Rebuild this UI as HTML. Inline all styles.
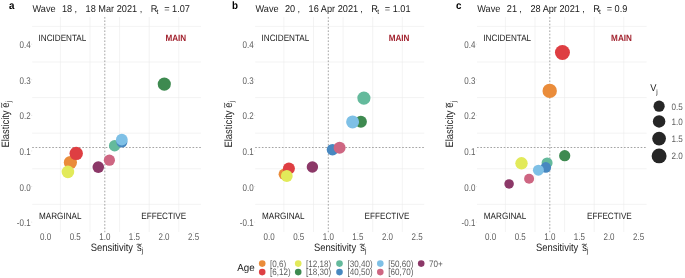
<!DOCTYPE html>
<html><head><meta charset="utf-8"><title>Elasticity vs Sensitivity</title>
<style>
html,body{margin:0;padding:0;background:#fff;}
body{width:685px;height:278px;overflow:hidden;}
svg{display:block;font-family:"Liberation Sans", sans-serif;text-rendering:geometricPrecision;-webkit-font-smoothing:antialiased;will-change:transform;}
</style></head><body>
<svg width="685" height="278" viewBox="0 0 685 278">
<rect width="685" height="278" fill="#fff"/>
<line x1="60.4" y1="17" x2="60.4" y2="232" stroke="#EBEBEB" stroke-width="0.6"/>
<line x1="90" y1="17" x2="90" y2="232" stroke="#EBEBEB" stroke-width="0.6"/>
<line x1="119.6" y1="17" x2="119.6" y2="232" stroke="#EBEBEB" stroke-width="0.6"/>
<line x1="149.2" y1="17" x2="149.2" y2="232" stroke="#EBEBEB" stroke-width="0.6"/>
<line x1="178.8" y1="17" x2="178.8" y2="232" stroke="#EBEBEB" stroke-width="0.6"/>
<line x1="32.2" y1="204.34" x2="200.9" y2="204.34" stroke="#EBEBEB" stroke-width="0.6"/>
<line x1="32.2" y1="168.76" x2="200.9" y2="168.76" stroke="#EBEBEB" stroke-width="0.6"/>
<line x1="32.2" y1="133.17" x2="200.9" y2="133.17" stroke="#EBEBEB" stroke-width="0.6"/>
<line x1="32.2" y1="97.58" x2="200.9" y2="97.58" stroke="#EBEBEB" stroke-width="0.6"/>
<line x1="32.2" y1="61.99" x2="200.9" y2="61.99" stroke="#EBEBEB" stroke-width="0.6"/>
<line x1="32.2" y1="26.4" x2="200.9" y2="26.4" stroke="#EBEBEB" stroke-width="0.6"/>
<line x1="104.8" y1="17" x2="104.8" y2="232" stroke="#9A9A9A" stroke-width="0.9" stroke-dasharray="1.66 1.68"/>
<line x1="32.2" y1="147.5" x2="200.9" y2="147.5" stroke="#9A9A9A" stroke-width="0.9" stroke-dasharray="1.66 1.68"/>
<text transform="matrix(0.8163 0 0 1 30.6 48.19)" font-size="9.8" fill="#5E5E5E" text-anchor="end">0.4</text>
<line x1="31" y1="44.19" x2="32.2" y2="44.19" stroke="#cfcfcf" stroke-width="0.5"/>
<text transform="matrix(0.8163 0 0 1 30.6 83.78)" font-size="9.8" fill="#5E5E5E" text-anchor="end">0.3</text>
<line x1="31" y1="79.78" x2="32.2" y2="79.78" stroke="#cfcfcf" stroke-width="0.5"/>
<text transform="matrix(0.8163 0 0 1 30.6 119.37)" font-size="9.8" fill="#5E5E5E" text-anchor="end">0.2</text>
<line x1="31" y1="115.37" x2="32.2" y2="115.37" stroke="#cfcfcf" stroke-width="0.5"/>
<text transform="matrix(0.8163 0 0 1 30.6 154.96)" font-size="9.8" fill="#5E5E5E" text-anchor="end">0.1</text>
<line x1="31" y1="150.96" x2="32.2" y2="150.96" stroke="#cfcfcf" stroke-width="0.5"/>
<text transform="matrix(0.8163 0 0 1 30.6 190.55)" font-size="9.8" fill="#5E5E5E" text-anchor="end">0.0</text>
<line x1="31" y1="186.55" x2="32.2" y2="186.55" stroke="#cfcfcf" stroke-width="0.5"/>
<text transform="matrix(0.8163 0 0 1 30.6 226.14)" font-size="9.8" fill="#5E5E5E" text-anchor="end">-0.1</text>
<line x1="31" y1="222.14" x2="32.2" y2="222.14" stroke="#cfcfcf" stroke-width="0.5"/>
<text transform="matrix(0.8163 0 0 1 45.6 239.7)" font-size="9.8" fill="#5E5E5E" text-anchor="middle">0.0</text>
<line x1="45.6" y1="232" x2="45.6" y2="233.1" stroke="#d8d8d8" stroke-width="0.5"/>
<text transform="matrix(0.8163 0 0 1 75.2 239.7)" font-size="9.8" fill="#5E5E5E" text-anchor="middle">0.5</text>
<line x1="75.2" y1="232" x2="75.2" y2="233.1" stroke="#d8d8d8" stroke-width="0.5"/>
<text transform="matrix(0.8163 0 0 1 104.8 239.7)" font-size="9.8" fill="#5E5E5E" text-anchor="middle">1.0</text>
<line x1="104.8" y1="232" x2="104.8" y2="233.1" stroke="#d8d8d8" stroke-width="0.5"/>
<text transform="matrix(0.8163 0 0 1 134.4 239.7)" font-size="9.8" fill="#5E5E5E" text-anchor="middle">1.5</text>
<line x1="134.4" y1="232" x2="134.4" y2="233.1" stroke="#d8d8d8" stroke-width="0.5"/>
<text transform="matrix(0.8163 0 0 1 164 239.7)" font-size="9.8" fill="#5E5E5E" text-anchor="middle">2.0</text>
<line x1="164" y1="232" x2="164" y2="233.1" stroke="#d8d8d8" stroke-width="0.5"/>
<text transform="matrix(0.8163 0 0 1 193.6 239.7)" font-size="9.8" fill="#5E5E5E" text-anchor="middle">2.5</text>
<line x1="193.6" y1="232" x2="193.6" y2="233.1" stroke="#d8d8d8" stroke-width="0.5"/>
<text transform="matrix(0.8859 0 0 1 38.5 40.8)" font-size="9.2" fill="#222">INCIDENTAL</text>
<text transform="matrix(0.8859 0 0 1 186.2 40.8)" font-size="9.2" fill="#A2232F" text-anchor="end" font-weight="bold">MAIN</text>
<text transform="matrix(0.8859 0 0 1 39 218.6)" font-size="9.2" fill="#222">MARGINAL</text>
<text transform="matrix(0.8859 0 0 1 186.1 218.6)" font-size="9.2" fill="#222" text-anchor="end">EFFECTIVE</text>
<circle cx="70.4" cy="162.5" r="6.6" fill="#EA8C3A"/>
<circle cx="76.2" cy="153.4" r="6.7" fill="#DE3E42"/>
<circle cx="67.9" cy="171.9" r="6.3" fill="#E2EA5A"/>
<circle cx="164.3" cy="84.1" r="6.6" fill="#3E8A50"/>
<circle cx="114.6" cy="145.8" r="5.7" fill="#64BA9C"/>
<circle cx="121.9" cy="142" r="5.5" fill="#4888C0"/>
<circle cx="121.8" cy="139.7" r="5.9" fill="#7EC0E6"/>
<circle cx="109.4" cy="160.2" r="5.6" fill="#CE6682"/>
<circle cx="98.3" cy="167.1" r="5.8" fill="#8C3868"/>
<text transform="matrix(0.9245 0 0 1 9 8.7)" font-size="10.6" fill="#000" font-weight="bold">a</text>
<text transform="matrix(0.9293 0 0 1 32.5 11.7)" font-size="9.9" fill="#1a1a1a">Wave</text>
<text transform="matrix(0.9293 0 0 1 62 11.7)" font-size="9.9" fill="#1a1a1a">18</text>
<text transform="matrix(0.9293 0 0 1 74.4 11.7)" font-size="9.9" fill="#1a1a1a">,</text>
<text transform="matrix(0.9293 0 0 1 85.6 11.7)" font-size="9.9" fill="#1a1a1a">18 Mar 2021</text>
<text transform="matrix(0.9293 0 0 1 139.7 11.7)" font-size="9.9" fill="#1a1a1a">,</text>
<text transform="matrix(0.9293 0 0 1 150.7 11.7)" font-size="9.9" fill="#1a1a1a">R</text>
<text transform="matrix(0.9293 0 0 1 156.6 13.6)" font-size="7.128" fill="#1a1a1a">t</text>
<text transform="matrix(0.9293 0 0 1 164.2 11.7)" font-size="9.9" fill="#1a1a1a" xml:space="preserve">= 1.07</text>
<text transform="matrix(0.8785 0 0 1 90.75 250.8)" font-size="10.7" fill="#1a1a1a">Sensitivity</text>
<text transform="matrix(0.8785 0 0 1 137.05 250.8)" font-size="10.7" fill="#1a1a1a">s</text>
<path d="M136.55 244.7 q1.3 -0.9 2.55 -0.35 t2.55 -0.35" stroke="#1a1a1a" stroke-width="0.75" fill="none"/>
<text transform="matrix(0.8785 0 0 1 141.85 253.3)" font-size="7.49" fill="#1a1a1a">j</text>
<g transform="translate(8.5,147.5) rotate(-90)">
<text transform="matrix(0.8785 0 0 1 0 0)" font-size="10.7" fill="#1a1a1a">Elasticity</text>
<text transform="matrix(0.8785 0 0 1 39.7 0)" font-size="10.7" fill="#1a1a1a">e</text>
<path d="M39.6 -6.5 q1.3 -0.9 2.55 -0.35 t2.55 -0.35" stroke="#1a1a1a" stroke-width="0.75" fill="none"/>
<text transform="matrix(0.8785 0 0 1 45.2 2.4)" font-size="7.49" fill="#1a1a1a">j</text>
</g>
<line x1="283.9" y1="17" x2="283.9" y2="232" stroke="#EBEBEB" stroke-width="0.6"/>
<line x1="313.5" y1="17" x2="313.5" y2="232" stroke="#EBEBEB" stroke-width="0.6"/>
<line x1="343.1" y1="17" x2="343.1" y2="232" stroke="#EBEBEB" stroke-width="0.6"/>
<line x1="372.7" y1="17" x2="372.7" y2="232" stroke="#EBEBEB" stroke-width="0.6"/>
<line x1="402.3" y1="17" x2="402.3" y2="232" stroke="#EBEBEB" stroke-width="0.6"/>
<line x1="255.2" y1="204.34" x2="424.2" y2="204.34" stroke="#EBEBEB" stroke-width="0.6"/>
<line x1="255.2" y1="168.76" x2="424.2" y2="168.76" stroke="#EBEBEB" stroke-width="0.6"/>
<line x1="255.2" y1="133.17" x2="424.2" y2="133.17" stroke="#EBEBEB" stroke-width="0.6"/>
<line x1="255.2" y1="97.58" x2="424.2" y2="97.58" stroke="#EBEBEB" stroke-width="0.6"/>
<line x1="255.2" y1="61.99" x2="424.2" y2="61.99" stroke="#EBEBEB" stroke-width="0.6"/>
<line x1="255.2" y1="26.4" x2="424.2" y2="26.4" stroke="#EBEBEB" stroke-width="0.6"/>
<line x1="328.3" y1="17" x2="328.3" y2="232" stroke="#9A9A9A" stroke-width="0.9" stroke-dasharray="1.66 1.68"/>
<line x1="255.2" y1="147.5" x2="424.2" y2="147.5" stroke="#9A9A9A" stroke-width="0.9" stroke-dasharray="1.66 1.68"/>
<text transform="matrix(0.8163 0 0 1 253.6 48.19)" font-size="9.8" fill="#5E5E5E" text-anchor="end">0.4</text>
<line x1="254" y1="44.19" x2="255.2" y2="44.19" stroke="#cfcfcf" stroke-width="0.5"/>
<text transform="matrix(0.8163 0 0 1 253.6 83.78)" font-size="9.8" fill="#5E5E5E" text-anchor="end">0.3</text>
<line x1="254" y1="79.78" x2="255.2" y2="79.78" stroke="#cfcfcf" stroke-width="0.5"/>
<text transform="matrix(0.8163 0 0 1 253.6 119.37)" font-size="9.8" fill="#5E5E5E" text-anchor="end">0.2</text>
<line x1="254" y1="115.37" x2="255.2" y2="115.37" stroke="#cfcfcf" stroke-width="0.5"/>
<text transform="matrix(0.8163 0 0 1 253.6 154.96)" font-size="9.8" fill="#5E5E5E" text-anchor="end">0.1</text>
<line x1="254" y1="150.96" x2="255.2" y2="150.96" stroke="#cfcfcf" stroke-width="0.5"/>
<text transform="matrix(0.8163 0 0 1 253.6 190.55)" font-size="9.8" fill="#5E5E5E" text-anchor="end">0.0</text>
<line x1="254" y1="186.55" x2="255.2" y2="186.55" stroke="#cfcfcf" stroke-width="0.5"/>
<text transform="matrix(0.8163 0 0 1 253.6 226.14)" font-size="9.8" fill="#5E5E5E" text-anchor="end">-0.1</text>
<line x1="254" y1="222.14" x2="255.2" y2="222.14" stroke="#cfcfcf" stroke-width="0.5"/>
<text transform="matrix(0.8163 0 0 1 269.1 239.7)" font-size="9.8" fill="#5E5E5E" text-anchor="middle">0.0</text>
<line x1="269.1" y1="232" x2="269.1" y2="233.1" stroke="#d8d8d8" stroke-width="0.5"/>
<text transform="matrix(0.8163 0 0 1 298.7 239.7)" font-size="9.8" fill="#5E5E5E" text-anchor="middle">0.5</text>
<line x1="298.7" y1="232" x2="298.7" y2="233.1" stroke="#d8d8d8" stroke-width="0.5"/>
<text transform="matrix(0.8163 0 0 1 328.3 239.7)" font-size="9.8" fill="#5E5E5E" text-anchor="middle">1.0</text>
<line x1="328.3" y1="232" x2="328.3" y2="233.1" stroke="#d8d8d8" stroke-width="0.5"/>
<text transform="matrix(0.8163 0 0 1 357.9 239.7)" font-size="9.8" fill="#5E5E5E" text-anchor="middle">1.5</text>
<line x1="357.9" y1="232" x2="357.9" y2="233.1" stroke="#d8d8d8" stroke-width="0.5"/>
<text transform="matrix(0.8163 0 0 1 387.5 239.7)" font-size="9.8" fill="#5E5E5E" text-anchor="middle">2.0</text>
<line x1="387.5" y1="232" x2="387.5" y2="233.1" stroke="#d8d8d8" stroke-width="0.5"/>
<text transform="matrix(0.8163 0 0 1 417.1 239.7)" font-size="9.8" fill="#5E5E5E" text-anchor="middle">2.5</text>
<line x1="417.1" y1="232" x2="417.1" y2="233.1" stroke="#d8d8d8" stroke-width="0.5"/>
<text transform="matrix(0.8859 0 0 1 261.5 40.8)" font-size="9.2" fill="#222">INCIDENTAL</text>
<text transform="matrix(0.8859 0 0 1 409.5 40.8)" font-size="9.2" fill="#A2232F" text-anchor="end" font-weight="bold">MAIN</text>
<text transform="matrix(0.8859 0 0 1 262 218.6)" font-size="9.2" fill="#222">MARGINAL</text>
<text transform="matrix(0.8859 0 0 1 409.4 218.6)" font-size="9.2" fill="#222" text-anchor="end">EFFECTIVE</text>
<circle cx="284.3" cy="174.2" r="5.7" fill="#EA8C3A"/>
<circle cx="288.9" cy="168.6" r="6" fill="#DE3E42"/>
<circle cx="286.8" cy="176" r="5.9" fill="#E2EA5A"/>
<circle cx="360.9" cy="121.8" r="6" fill="#3E8A50"/>
<circle cx="363.9" cy="98.1" r="6.6" fill="#64BA9C"/>
<circle cx="332.5" cy="149.7" r="5.8" fill="#4888C0"/>
<circle cx="352.6" cy="121.9" r="6.5" fill="#7EC0E6"/>
<circle cx="339.6" cy="147.8" r="6" fill="#CE6682"/>
<circle cx="312.4" cy="167" r="5.7" fill="#8C3868"/>
<text transform="matrix(0.9245 0 0 1 232 8.7)" font-size="10.6" fill="#000" font-weight="bold">b</text>
<text transform="matrix(0.9293 0 0 1 255.5 11.7)" font-size="9.9" fill="#1a1a1a">Wave</text>
<text transform="matrix(0.9293 0 0 1 285 11.7)" font-size="9.9" fill="#1a1a1a">20</text>
<text transform="matrix(0.9293 0 0 1 297.4 11.7)" font-size="9.9" fill="#1a1a1a">,</text>
<text transform="matrix(0.9293 0 0 1 308.6 11.7)" font-size="9.9" fill="#1a1a1a">16 Apr 2021</text>
<text transform="matrix(0.9293 0 0 1 360.3 11.7)" font-size="9.9" fill="#1a1a1a">,</text>
<text transform="matrix(0.9293 0 0 1 371.3 11.7)" font-size="9.9" fill="#1a1a1a">R</text>
<text transform="matrix(0.9293 0 0 1 377.2 13.6)" font-size="7.128" fill="#1a1a1a">t</text>
<text transform="matrix(0.9293 0 0 1 384.8 11.7)" font-size="9.9" fill="#1a1a1a" xml:space="preserve">= 1.01</text>
<text transform="matrix(0.8785 0 0 1 313.9 250.8)" font-size="10.7" fill="#1a1a1a">Sensitivity</text>
<text transform="matrix(0.8785 0 0 1 360.2 250.8)" font-size="10.7" fill="#1a1a1a">s</text>
<path d="M359.7 244.7 q1.3 -0.9 2.55 -0.35 t2.55 -0.35" stroke="#1a1a1a" stroke-width="0.75" fill="none"/>
<text transform="matrix(0.8785 0 0 1 365 253.3)" font-size="7.49" fill="#1a1a1a">j</text>
<g transform="translate(231.5,147.5) rotate(-90)">
<text transform="matrix(0.8785 0 0 1 0 0)" font-size="10.7" fill="#1a1a1a">Elasticity</text>
<text transform="matrix(0.8785 0 0 1 39.7 0)" font-size="10.7" fill="#1a1a1a">e</text>
<path d="M39.6 -6.5 q1.3 -0.9 2.55 -0.35 t2.55 -0.35" stroke="#1a1a1a" stroke-width="0.75" fill="none"/>
<text transform="matrix(0.8785 0 0 1 45.2 2.4)" font-size="7.49" fill="#1a1a1a">j</text>
</g>
<line x1="505.4" y1="17" x2="505.4" y2="232" stroke="#EBEBEB" stroke-width="0.6"/>
<line x1="535" y1="17" x2="535" y2="232" stroke="#EBEBEB" stroke-width="0.6"/>
<line x1="564.6" y1="17" x2="564.6" y2="232" stroke="#EBEBEB" stroke-width="0.6"/>
<line x1="594.2" y1="17" x2="594.2" y2="232" stroke="#EBEBEB" stroke-width="0.6"/>
<line x1="623.8" y1="17" x2="623.8" y2="232" stroke="#EBEBEB" stroke-width="0.6"/>
<line x1="477" y1="204.34" x2="646.6" y2="204.34" stroke="#EBEBEB" stroke-width="0.6"/>
<line x1="477" y1="168.76" x2="646.6" y2="168.76" stroke="#EBEBEB" stroke-width="0.6"/>
<line x1="477" y1="133.17" x2="646.6" y2="133.17" stroke="#EBEBEB" stroke-width="0.6"/>
<line x1="477" y1="97.58" x2="646.6" y2="97.58" stroke="#EBEBEB" stroke-width="0.6"/>
<line x1="477" y1="61.99" x2="646.6" y2="61.99" stroke="#EBEBEB" stroke-width="0.6"/>
<line x1="477" y1="26.4" x2="646.6" y2="26.4" stroke="#EBEBEB" stroke-width="0.6"/>
<line x1="549.8" y1="17" x2="549.8" y2="232" stroke="#9A9A9A" stroke-width="0.9" stroke-dasharray="1.66 1.68"/>
<line x1="477" y1="147.5" x2="646.6" y2="147.5" stroke="#9A9A9A" stroke-width="0.9" stroke-dasharray="1.66 1.68"/>
<text transform="matrix(0.8163 0 0 1 475.4 48.19)" font-size="9.8" fill="#5E5E5E" text-anchor="end">0.4</text>
<line x1="475.8" y1="44.19" x2="477" y2="44.19" stroke="#cfcfcf" stroke-width="0.5"/>
<text transform="matrix(0.8163 0 0 1 475.4 83.78)" font-size="9.8" fill="#5E5E5E" text-anchor="end">0.3</text>
<line x1="475.8" y1="79.78" x2="477" y2="79.78" stroke="#cfcfcf" stroke-width="0.5"/>
<text transform="matrix(0.8163 0 0 1 475.4 119.37)" font-size="9.8" fill="#5E5E5E" text-anchor="end">0.2</text>
<line x1="475.8" y1="115.37" x2="477" y2="115.37" stroke="#cfcfcf" stroke-width="0.5"/>
<text transform="matrix(0.8163 0 0 1 475.4 154.96)" font-size="9.8" fill="#5E5E5E" text-anchor="end">0.1</text>
<line x1="475.8" y1="150.96" x2="477" y2="150.96" stroke="#cfcfcf" stroke-width="0.5"/>
<text transform="matrix(0.8163 0 0 1 475.4 190.55)" font-size="9.8" fill="#5E5E5E" text-anchor="end">0.0</text>
<line x1="475.8" y1="186.55" x2="477" y2="186.55" stroke="#cfcfcf" stroke-width="0.5"/>
<text transform="matrix(0.8163 0 0 1 475.4 226.14)" font-size="9.8" fill="#5E5E5E" text-anchor="end">-0.1</text>
<line x1="475.8" y1="222.14" x2="477" y2="222.14" stroke="#cfcfcf" stroke-width="0.5"/>
<text transform="matrix(0.8163 0 0 1 490.6 239.7)" font-size="9.8" fill="#5E5E5E" text-anchor="middle">0.0</text>
<line x1="490.6" y1="232" x2="490.6" y2="233.1" stroke="#d8d8d8" stroke-width="0.5"/>
<text transform="matrix(0.8163 0 0 1 520.2 239.7)" font-size="9.8" fill="#5E5E5E" text-anchor="middle">0.5</text>
<line x1="520.2" y1="232" x2="520.2" y2="233.1" stroke="#d8d8d8" stroke-width="0.5"/>
<text transform="matrix(0.8163 0 0 1 549.8 239.7)" font-size="9.8" fill="#5E5E5E" text-anchor="middle">1.0</text>
<line x1="549.8" y1="232" x2="549.8" y2="233.1" stroke="#d8d8d8" stroke-width="0.5"/>
<text transform="matrix(0.8163 0 0 1 579.4 239.7)" font-size="9.8" fill="#5E5E5E" text-anchor="middle">1.5</text>
<line x1="579.4" y1="232" x2="579.4" y2="233.1" stroke="#d8d8d8" stroke-width="0.5"/>
<text transform="matrix(0.8163 0 0 1 609 239.7)" font-size="9.8" fill="#5E5E5E" text-anchor="middle">2.0</text>
<line x1="609" y1="232" x2="609" y2="233.1" stroke="#d8d8d8" stroke-width="0.5"/>
<text transform="matrix(0.8163 0 0 1 638.6 239.7)" font-size="9.8" fill="#5E5E5E" text-anchor="middle">2.5</text>
<line x1="638.6" y1="232" x2="638.6" y2="233.1" stroke="#d8d8d8" stroke-width="0.5"/>
<text transform="matrix(0.8859 0 0 1 483.3 40.8)" font-size="9.2" fill="#222">INCIDENTAL</text>
<text transform="matrix(0.8859 0 0 1 631.9 40.8)" font-size="9.2" fill="#A2232F" text-anchor="end" font-weight="bold">MAIN</text>
<text transform="matrix(0.8859 0 0 1 483.8 218.6)" font-size="9.2" fill="#222">MARGINAL</text>
<text transform="matrix(0.8859 0 0 1 631.8 218.6)" font-size="9.2" fill="#222" text-anchor="end">EFFECTIVE</text>
<circle cx="549.7" cy="90.9" r="7.2" fill="#EA8C3A"/>
<circle cx="562.45" cy="52.45" r="7.5" fill="#DE3E42"/>
<circle cx="521.5" cy="163.3" r="6.2" fill="#E2EA5A"/>
<circle cx="564.7" cy="155.7" r="5.6" fill="#3E8A50"/>
<circle cx="547.1" cy="162.9" r="5.5" fill="#64BA9C"/>
<circle cx="545.8" cy="167.4" r="5.3" fill="#4888C0"/>
<circle cx="538.4" cy="170.2" r="5.5" fill="#7EC0E6"/>
<circle cx="529.1" cy="178.7" r="5" fill="#CE6682"/>
<circle cx="509.1" cy="183.9" r="4.75" fill="#8C3868"/>
<text transform="matrix(0.9245 0 0 1 455.9 8.7)" font-size="10.6" fill="#000" font-weight="bold">c</text>
<text transform="matrix(0.9293 0 0 1 477.3 11.7)" font-size="9.9" fill="#1a1a1a">Wave</text>
<text transform="matrix(0.9293 0 0 1 506.8 11.7)" font-size="9.9" fill="#1a1a1a">21</text>
<text transform="matrix(0.9293 0 0 1 519.2 11.7)" font-size="9.9" fill="#1a1a1a">,</text>
<text transform="matrix(0.9293 0 0 1 530.4 11.7)" font-size="9.9" fill="#1a1a1a">28 Apr 2021</text>
<text transform="matrix(0.9293 0 0 1 582.2 11.7)" font-size="9.9" fill="#1a1a1a">,</text>
<text transform="matrix(0.9293 0 0 1 593.2 11.7)" font-size="9.9" fill="#1a1a1a">R</text>
<text transform="matrix(0.9293 0 0 1 599.1 13.6)" font-size="7.128" fill="#1a1a1a">t</text>
<text transform="matrix(0.9293 0 0 1 606.7 11.7)" font-size="9.9" fill="#1a1a1a" xml:space="preserve">= 0.9</text>
<text transform="matrix(0.8785 0 0 1 536 250.8)" font-size="10.7" fill="#1a1a1a">Sensitivity</text>
<text transform="matrix(0.8785 0 0 1 582.3 250.8)" font-size="10.7" fill="#1a1a1a">s</text>
<path d="M581.8 244.7 q1.3 -0.9 2.55 -0.35 t2.55 -0.35" stroke="#1a1a1a" stroke-width="0.75" fill="none"/>
<text transform="matrix(0.8785 0 0 1 587.1 253.3)" font-size="7.49" fill="#1a1a1a">j</text>
<g transform="translate(453.3,147.5) rotate(-90)">
<text transform="matrix(0.8785 0 0 1 0 0)" font-size="10.7" fill="#1a1a1a">Elasticity</text>
<text transform="matrix(0.8785 0 0 1 39.7 0)" font-size="10.7" fill="#1a1a1a">e</text>
<path d="M39.6 -6.5 q1.3 -0.9 2.55 -0.35 t2.55 -0.35" stroke="#1a1a1a" stroke-width="0.75" fill="none"/>
<text transform="matrix(0.8785 0 0 1 45.2 2.4)" font-size="7.49" fill="#1a1a1a">j</text>
</g>
<text transform="matrix(0.9394 0 0 1 650.2 91.2)" font-size="9.9" fill="#1a1a1a">V</text>
<text transform="matrix(0.9394 0 0 1 656.3 94.2)" font-size="6.93" fill="#1a1a1a">j</text>
<circle cx="659.1" cy="106.2" r="5.6" fill="#262626"/>
<text transform="matrix(0.871 0 0 1 671.6 109.55)" font-size="9.3" fill="#5E5E5E">0.5</text>
<circle cx="659.1" cy="121.4" r="6.25" fill="#262626"/>
<text transform="matrix(0.871 0 0 1 671.6 124.75)" font-size="9.3" fill="#5E5E5E">1.0</text>
<circle cx="659.1" cy="138.6" r="6.85" fill="#262626"/>
<text transform="matrix(0.871 0 0 1 671.6 141.95)" font-size="9.3" fill="#5E5E5E">1.5</text>
<circle cx="659.1" cy="155.9" r="7.45" fill="#262626"/>
<text transform="matrix(0.871 0 0 1 671.6 159.25)" font-size="9.3" fill="#5E5E5E">2.0</text>
<text transform="matrix(0.9703 0 0 1 237.3 271.1)" font-size="10.1" fill="#1a1a1a">Age</text>
<circle cx="262.2" cy="263.6" r="3.3" fill="#EA8C3A"/>
<text transform="matrix(0.871 0 0 1 270.1 266.95)" font-size="9.3" fill="#5E5E5E">[0,6)</text>
<circle cx="262.2" cy="272.1" r="3.3" fill="#DE3E42"/>
<text transform="matrix(0.871 0 0 1 270.1 275.45)" font-size="9.3" fill="#5E5E5E">[6,12)</text>
<circle cx="298.2" cy="263.6" r="3.3" fill="#E2EA5A"/>
<text transform="matrix(0.871 0 0 1 306.1 266.95)" font-size="9.3" fill="#5E5E5E">[12,18)</text>
<circle cx="298.2" cy="272.1" r="3.3" fill="#3E8A50"/>
<text transform="matrix(0.871 0 0 1 306.1 275.45)" font-size="9.3" fill="#5E5E5E">[18,30)</text>
<circle cx="339.5" cy="263.6" r="3.3" fill="#64BA9C"/>
<text transform="matrix(0.871 0 0 1 347.4 266.95)" font-size="9.3" fill="#5E5E5E">[30,40)</text>
<circle cx="339.5" cy="272.1" r="3.3" fill="#4888C0"/>
<text transform="matrix(0.871 0 0 1 347.4 275.45)" font-size="9.3" fill="#5E5E5E">[40,50)</text>
<circle cx="380.3" cy="263.6" r="3.3" fill="#7EC0E6"/>
<text transform="matrix(0.871 0 0 1 388.2 266.95)" font-size="9.3" fill="#5E5E5E">[50,60)</text>
<circle cx="380.3" cy="272.1" r="3.3" fill="#CE6682"/>
<text transform="matrix(0.871 0 0 1 388.2 275.45)" font-size="9.3" fill="#5E5E5E">[60,70)</text>
<circle cx="421.2" cy="263.6" r="3.3" fill="#8C3868"/>
<text transform="matrix(0.871 0 0 1 429.1 266.95)" font-size="9.3" fill="#5E5E5E">70+</text>
</svg>
</body></html>
